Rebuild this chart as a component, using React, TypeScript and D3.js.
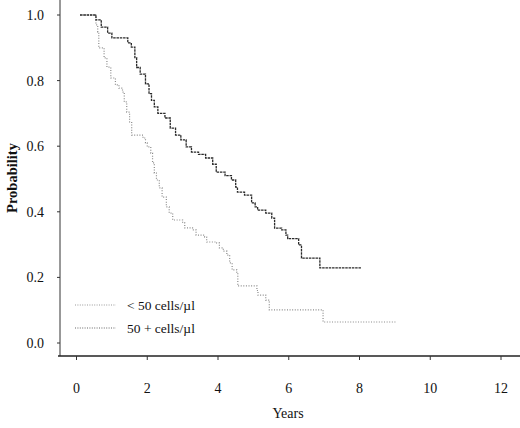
import * as d3 from "d3";

// Kaplan-Meier steps: event time (years) and survival after the event
const lowTimes = [0.1, 0.55, 0.6, 0.63, 0.78, 0.86, 0.97, 1.1, 1.2, 1.3, 1.35, 1.42, 1.5, 1.56, 1.88, 1.95, 2.0, 2.1, 2.15, 2.2, 2.26, 2.34, 2.42, 2.54, 2.62, 2.72, 3.0, 3.06, 3.28, 3.38, 3.62, 3.68, 3.96, 4.04, 4.15, 4.25, 4.33, 4.4, 4.53, 4.56, 5.1, 5.13, 5.35, 5.45, 6.97, 9.05];
const lowSurv = [1.0, 0.97, 0.948, 0.9, 0.869, 0.841, 0.808, 0.787, 0.777, 0.765, 0.735, 0.704, 0.674, 0.634, 0.625, 0.61, 0.598, 0.579, 0.549, 0.518, 0.497, 0.473, 0.445, 0.415, 0.396, 0.375, 0.366, 0.351, 0.345, 0.329, 0.323, 0.308, 0.305, 0.29, 0.28, 0.268, 0.244, 0.223, 0.216, 0.174, 0.16, 0.146, 0.131, 0.101, 0.064, 0.064];

const highTimes = [0.1, 0.55, 0.7, 0.88, 1.0, 1.45, 1.55, 1.65, 1.7, 1.8, 1.95, 2.05, 2.12, 2.2, 2.3, 2.5, 2.65, 2.8, 2.95, 3.1, 3.25, 3.45, 3.65, 3.85, 3.95, 4.2, 4.38, 4.5, 4.55, 4.75, 4.95, 5.05, 5.12, 5.35, 5.52, 5.6, 5.8, 5.92, 5.97, 6.28, 6.36, 6.88, 8.05];
const highSurv = [1.0, 0.985, 0.963, 0.945, 0.93, 0.915, 0.902, 0.87, 0.84, 0.82, 0.79, 0.76, 0.74, 0.72, 0.7, 0.686, 0.655, 0.634, 0.619, 0.598, 0.582, 0.575, 0.564, 0.545, 0.521, 0.51, 0.497, 0.475, 0.46, 0.451, 0.427, 0.415, 0.405, 0.396, 0.381, 0.35, 0.345, 0.329, 0.318, 0.299, 0.259, 0.229, 0.229];

const xTicks = [0, 2, 4, 6, 8, 10, 12];
const yTicks = [0, 0.2, 0.4, 0.6, 0.8, 1.0];
const legendLabels = ["< 50 cells/\u00b5l", "50 + cells/\u00b5l"];

const W = 520;
const H = 428;
const FONT = "'Liberation Serif', 'DejaVu Serif', serif";

export default function App() {
  const x = d3.scaleLinear().domain([0, 12]).range([76.5, 501]);
  const y = d3.scaleLinear().domain([0, 1]).range([343, 15]);

  const line = d3
    .line<[number, number]>()
    .x((d) => x(d[0]))
    .y((d) => y(d[1]))
    .curve(d3.curveStepAfter);

  const lowPath = line(lowTimes.map((t, i) => [t, lowSurv[i]]));
  const highPath = line(highTimes.map((t, i) => [t, highSurv[i]]));

  const axisX = 60;
  const axisY = 356;

  const styles = [
    { stroke: "#8a8a8a", dash: "1,1.6", width: 1.2, legend: "#9a9a9a" },
    { stroke: "#2a2a2a", dash: "2.5,0.8", width: 1.3, legend: "#666" },
  ];

  return (
    <svg
      width={W}
      height={H}
      style={{ position: "absolute", left: 0, top: 0, background: "#fff" }}
      fontFamily={FONT}
    >
      {/* axes */}
      <line x1={axisX} x2={axisX} y1={0} y2={axisY} stroke="#333" strokeWidth={1} />
      <line x1={58} x2={W} y1={axisY} y2={axisY} stroke="#222" strokeWidth={1.5} />

      {yTicks.map((t) => (
        <g key={t}>
          <line x1={axisX - 3} x2={axisX} y1={y(t)} y2={y(t)} stroke="#333" />
          <text x={44} y={y(t)} dy="0.35em" textAnchor="end" fontSize={14} fill="#111">
            {t.toFixed(1)}
          </text>
        </g>
      ))}

      {xTicks.map((t) => (
        <g key={t}>
          <line x1={x(t)} x2={x(t)} y1={axisY} y2={axisY + 4} stroke="#333" />
          <text x={x(t)} y={393} textAnchor="middle" fontSize={14} fill="#111">
            {t}
          </text>
        </g>
      ))}

      <text x={288} y={418} textAnchor="middle" fontSize={14} fill="#111">
        Years
      </text>
      <text
        transform="translate(17,178) rotate(-90)"
        textAnchor="middle"
        fontSize={14.5}
        fontWeight="bold"
        fill="#111"
      >
        Probability
      </text>

      {/* curves */}
      <path d={lowPath ?? ""} fill="none" stroke={styles[0].stroke} strokeWidth={styles[0].width} strokeDasharray={styles[0].dash} />
      <path d={highPath ?? ""} fill="none" stroke={styles[1].stroke} strokeWidth={styles[1].width} strokeDasharray={styles[1].dash} />

      {/* legend */}
      {legendLabels.map((lab, i) => (
        <g key={lab} transform={`translate(0,${305 + i * 23})`}>
          <line x1={75} x2={116} y1={0} y2={0} stroke={styles[i].legend} strokeWidth={1.1} strokeDasharray="1,1.4" />
          <text x={127} y={0} dy="0.35em" fontSize={13.5} fill="#111">
            {lab}
          </text>
        </g>
      ))}
    </svg>
  );
}
